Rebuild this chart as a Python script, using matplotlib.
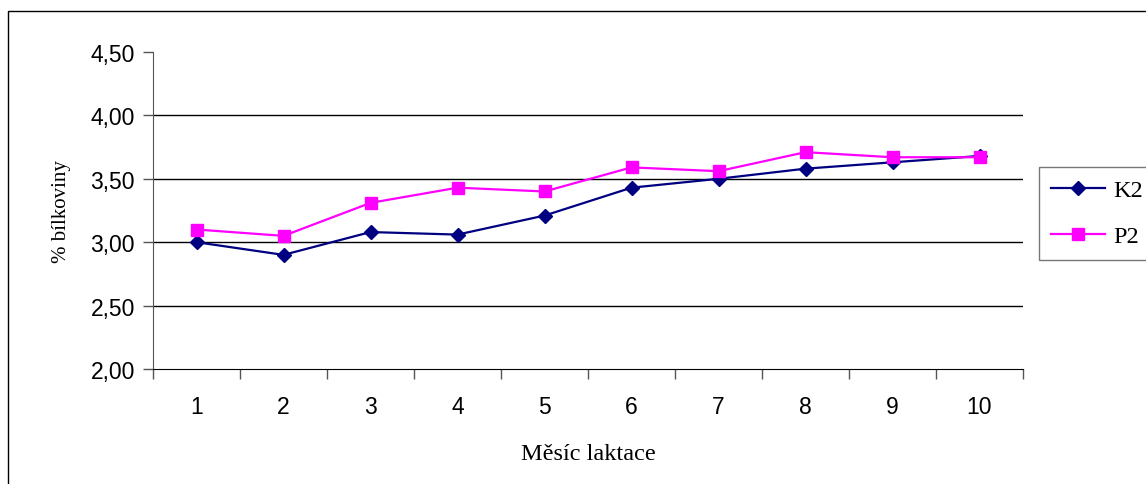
import matplotlib.pyplot as plt
import numpy as np
from matplotlib.patches import Rectangle

# data
months = [1, 2, 3, 4, 5, 6, 7, 8, 9, 10]
k2 = [3.00, 2.90, 3.08, 3.06, 3.21, 3.43, 3.50, 3.58, 3.63, 3.68]
p2 = [3.10, 3.05, 3.31, 3.43, 3.40, 3.59, 3.56, 3.71, 3.67, 3.67]
yticks = [2.0, 2.5, 3.0, 3.5, 4.0, 4.5]
ytick_labels = ['2,00', '2,50', '3,00', '3,50', '4,00', '4,50']

W, H = 1146, 485
fig = plt.figure(figsize=(W / 100, H / 100), dpi=100)

# outer chart frame (runs off right and bottom edge)
fig.patches.append(Rectangle((8 / W, -0.1), 1.2, 1 - 12 / H + 0.1, transform=fig.transFigure,
                             fill=False, edgecolor='black', linewidth=1.0))

ax = fig.add_axes([153 / W, 1 - 370 / H, (1023 - 153) / W, (370 - 53) / H])

ax.plot(months, k2, color='#000080', marker='D', markersize=7.5, linewidth=1.6, label='K2')
ax.plot(months, p2, color='#FF00FF', marker='s', markersize=8, linewidth=1.6, label='P2')

ax.set_xlim(0.5, 10.5)
ax.set_ylim(2.0, 4.5)

for y in yticks[1:-1]:
    ax.axhline(y, color='black', linewidth=1.0, zorder=0)

ax.set_yticks(yticks)
ax.set_yticklabels(ytick_labels, fontfamily='Liberation Sans', fontsize=16.5)
ax.set_xticks(months)
ax.set_xticklabels([str(m) for m in months], fontfamily='Liberation Sans', fontsize=16.5)
ax.set_xticks(np.arange(0.5, 11, 1), minor=True)
ax.tick_params(axis='x', which='major', length=0, pad=19)
ax.tick_params(axis='x', which='minor', length=7, width=1, color='#555555', direction='out')
ax.tick_params(axis='y', length=7, width=1, color='#555555', pad=6)

for s in ['top', 'right']:
    ax.spines[s].set_visible(False)
ax.spines['left'].set_color('#555555')
ax.spines['bottom'].set_color('black')

ax.set_xlabel('Měsíc laktace', fontfamily='Liberation Serif', fontsize=17.5, labelpad=18)
ax.set_ylabel('% bílkoviny', fontfamily='Liberation Serif', fontsize=15, labelpad=14)

leg = ax.legend(loc='upper left', bbox_to_anchor=(1039 / W, 1 - 168 / H), bbox_transform=fig.transFigure,
                prop={'family': 'Liberation Serif', 'size': 17.5}, frameon=True, fancybox=False,
                handlelength=2.2, borderpad=0.5, labelspacing=1.0, handletextpad=0.37, borderaxespad=0)
leg.get_frame().set_edgecolor('#555555')
leg.get_frame().set_linewidth(1.0)

fig.savefig('out.png', dpi=100)
